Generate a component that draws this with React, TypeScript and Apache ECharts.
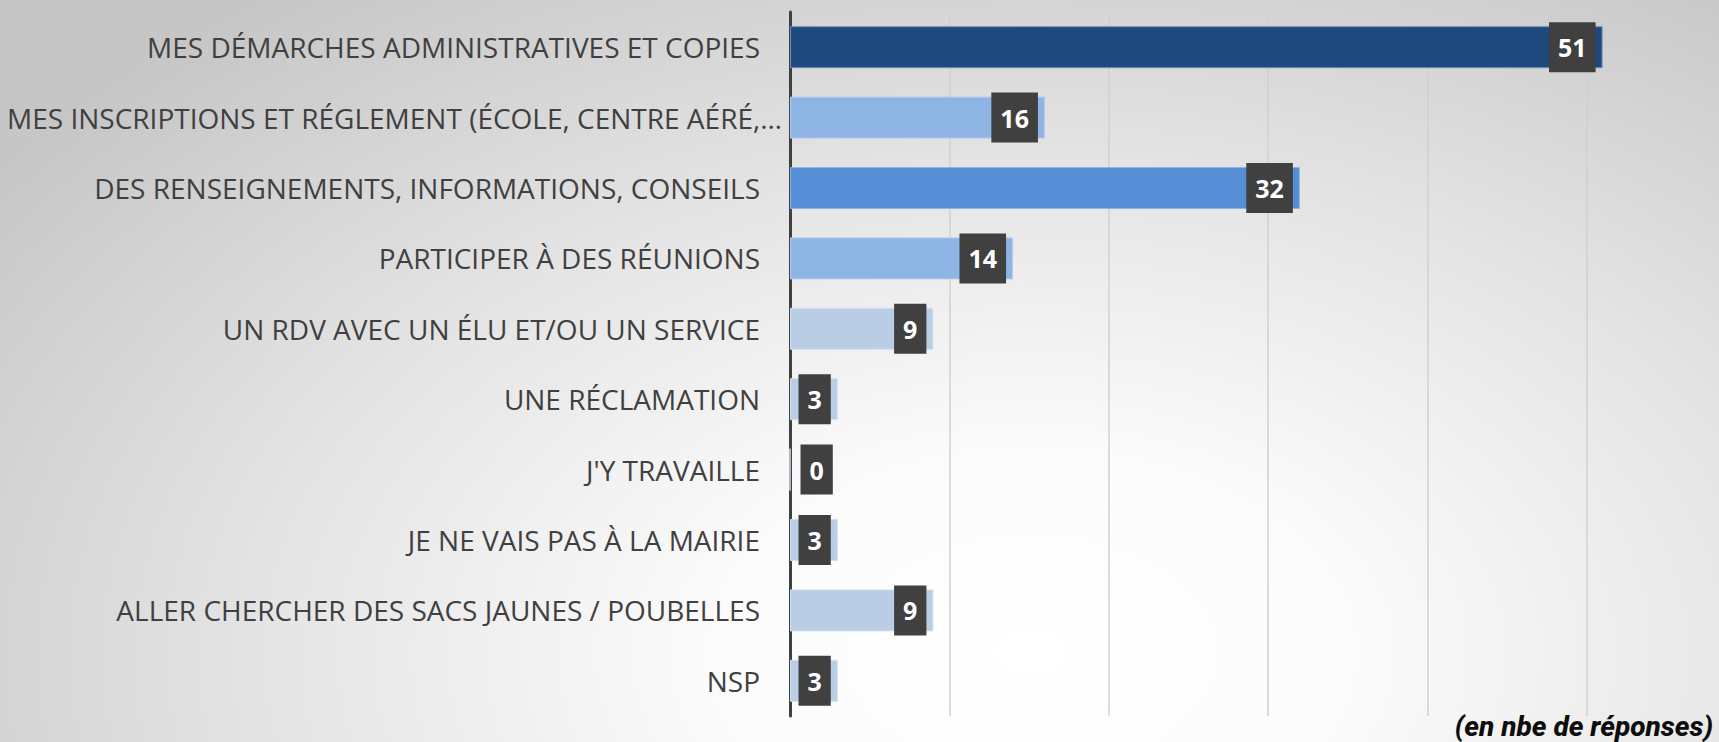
import React, { useEffect, useRef } from "react";
import * as echarts from "echarts";

const categories = [
  "MES DÉMARCHES ADMINISTRATIVES ET COPIES",
  "MES INSCRIPTIONS ET RÉGLEMENT (ÉCOLE, CENTRE AÉRÉ,…",
  "DES RENSEIGNEMENTS, INFORMATIONS, CONSEILS",
  "PARTICIPER À DES RÉUNIONS",
  "UN RDV AVEC UN ÉLU ET/OU UN SERVICE",
  "UNE RÉCLAMATION",
  "J'Y TRAVAILLE",
  "JE NE VAIS PAS À LA MAIRIE",
  "ALLER CHERCHER DES SACS JAUNES / POUBELLES",
  "NSP",
];
const values = [51, 16, 32, 14, 9, 3, 0, 3, 9, 3];
const barColors = [
  "#1F497D",
  "#8EB4E3",
  "#558ED5",
  "#8EB4E3",
  "#B9CDE5",
  "#B9CDE5",
  "#B9CDE5",
  "#B9CDE5",
  "#B9CDE5",
  "#B9CDE5",
];
const borderColors = [
  "#6f8fbf",
  "#b4cdee",
  "#8fb3e6",
  "#b4cdee",
  "#d3e0f0",
  "#d3e0f0",
  "#d3e0f0",
  "#d3e0f0",
  "#d3e0f0",
  "#d3e0f0",
];
const unitNote = "(en nbe de réponses)";

export default function App() {
  const ref = useRef<HTMLDivElement>(null);
  useEffect(() => {
    if (!ref.current) return;
    const chart = echarts.init(ref.current, null, { renderer: "svg" });
    const labelBase = {
      show: true,
      position: "insideRight",
      distance: 7,
      color: "#ffffff",
      fontFamily: "Open Sans",
      fontWeight: "bold",
      fontSize: 25,
      backgroundColor: "#404040",
      padding: [9, 9, 9, 9],
      lineHeight: 32,
    };
    const data = values.map((v, i) => ({
      value: v,
      itemStyle: { color: barColors[i], borderColor: borderColors[i], borderWidth: 1 },
      label: v === 0 ? { position: "right", distance: 10 } : undefined,
    }));
    chart.setOption({
      animation: false,
      backgroundColor: "transparent",
      grid: {
        left: 790,
        width: 956,
        top: 12,
        bottom: 26,
        containLabel: false,
        outerBoundsMode: "none",
      },
      xAxis: {
        type: "value",
        min: 0,
        max: 60,
        interval: 10,
        axisLabel: { show: false },
        axisLine: { show: false },
        axisTick: { show: false },
        splitLine: { show: true, lineStyle: { color: "#d0d0d0", width: 1.5 } },
      },
      yAxis: {
        type: "category",
        inverse: true,
        data: categories.map((c, i) =>
          i === 1 ? { value: c, textStyle: { padding: [0, -22, 0, 0] } } : c
        ),
        axisLine: { show: true, lineStyle: { color: "#404040", width: 3 } },
        axisTick: { show: false },
        axisLabel: {
          margin: 30,
          color: "#404040",
          fontFamily: "Open Sans",
          fontSize: 28,
        },
      },
      series: [
        {
          type: "bar",
          data,
          barWidth: 42,
          label: labelBase,
        },
      ],
      graphic: [
        {
          type: "text",
          right: 6,
          bottom: 2,
          style: {
            text: unitNote,
            font: "italic 800 28px Roboto",
            fill: "#0d0d0d",
          },
        },
      ],
    });
    return () => chart.dispose();
  }, []);
  return (
    <div
      ref={ref}
      style={{
        position: "absolute",
        left: 0,
        top: 0,
        width: 1719,
        height: 742,
        background:
          "radial-gradient(ellipse 75% 110% at 60% 88%, #ffffff 0%, #fbfbfb 25%, #e4e4e4 60%, #c6c6c6 100%)",
      }}
    />
  );
}
